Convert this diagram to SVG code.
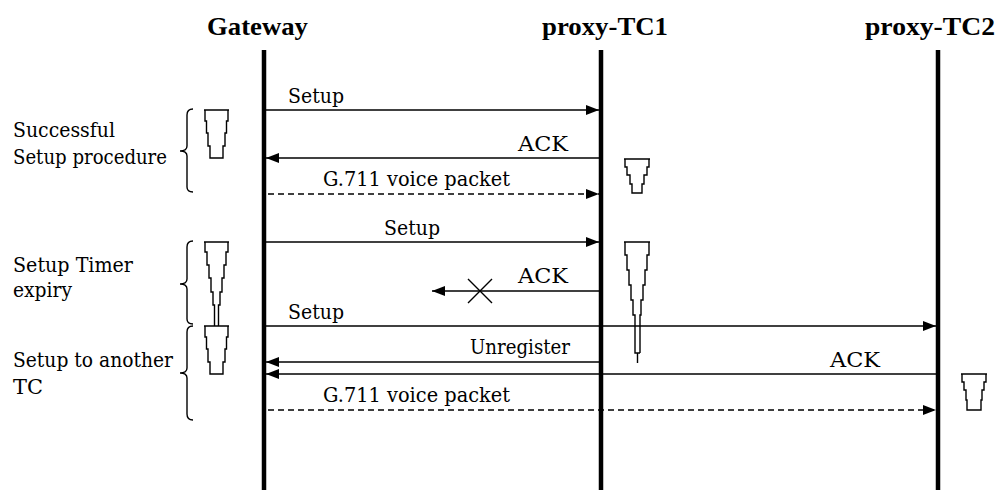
<svg xmlns="http://www.w3.org/2000/svg" width="999" height="490" viewBox="0 0 999 490">
<defs>
<style>
.t{font-family:"DejaVu Serif","Liberation Serif",serif;font-size:21px;fill:#000}
.h{font-family:"Liberation Serif","Times New Roman",serif;font-size:26px;font-weight:bold;fill:#000}
.life{stroke:#000;stroke-width:4.5;fill:none}
.msg{stroke:#000;stroke-width:1.5;fill:none}
.dash{stroke-dasharray:6 4}
.ann{stroke:#000;stroke-width:1.4;fill:none}
</style>
<marker id="ah" markerUnits="userSpaceOnUse" markerWidth="14" markerHeight="11" refX="13" refY="5" orient="auto">
<path d="M0,0 L13,5 L0,10 Z" fill="#000"/>
</marker>
</defs>
<rect width="999" height="490" fill="#fff"/>

<g id="gateway">
<text class="h" x="207" y="35" textLength="101" lengthAdjust="spacingAndGlyphs">Gateway</text>
<line class="life" x1="264" y1="50" x2="264" y2="490"/>
</g>
<g id="proxy-tc1">
<text class="h" x="542" y="35" textLength="126" lengthAdjust="spacingAndGlyphs">proxy-TC1</text>
<line class="life" x1="601" y1="50" x2="601" y2="490"/>
</g>
<g id="proxy-tc2">
<text class="h" x="865" y="35" textLength="130" lengthAdjust="spacingAndGlyphs">proxy-TC2</text>
<line class="life" x1="938" y1="50" x2="938" y2="490"/>
</g>

<g id="connectors">
<line class="msg" x1="266" y1="110" x2="599" y2="110" marker-end="url(#ah)"/>
<text class="t" x="288" y="103" textLength="56" lengthAdjust="spacingAndGlyphs">Setup</text>

<line class="msg" x1="599" y1="158" x2="266" y2="158" marker-end="url(#ah)"/>
<text class="t" x="518" y="151" textLength="50" lengthAdjust="spacingAndGlyphs">ACK</text>

<line class="msg dash" x1="268" y1="194" x2="599" y2="194" marker-end="url(#ah)"/>
<text class="t" x="323" y="186" textLength="187" lengthAdjust="spacingAndGlyphs">G.711 voice packet</text>

<line class="msg" x1="266" y1="242" x2="599" y2="242" marker-end="url(#ah)"/>
<text class="t" x="384" y="235" textLength="56" lengthAdjust="spacingAndGlyphs">Setup</text>

<line class="msg" x1="599" y1="291" x2="432" y2="291" marker-end="url(#ah)"/>
<text class="t" x="518" y="283" textLength="50" lengthAdjust="spacingAndGlyphs">ACK</text>
<path class="ann" d="M468,279 L492,303 M492,279 L468,303"/>

<line class="msg" x1="266" y1="326" x2="936" y2="326" marker-end="url(#ah)"/>
<text class="t" x="288" y="319" textLength="56" lengthAdjust="spacingAndGlyphs">Setup</text>

<line class="msg" x1="599" y1="362" x2="266" y2="362" marker-end="url(#ah)"/>
<text class="t" x="470" y="354" textLength="100" lengthAdjust="spacingAndGlyphs">Unregister</text>

<line class="msg" x1="936" y1="374" x2="266" y2="374" marker-end="url(#ah)"/>
<text class="t" x="830" y="367" textLength="50" lengthAdjust="spacingAndGlyphs">ACK</text>

<line class="msg dash" x1="268" y1="410" x2="936" y2="410" marker-end="url(#ah)"/>
<text class="t" x="323" y="402" textLength="187" lengthAdjust="spacingAndGlyphs">G.711 voice packet</text>
</g>

<g id="annotations">
<text class="t" x="13" y="137" textLength="102" lengthAdjust="spacingAndGlyphs">Successful</text>
<text class="t" x="13" y="164" textLength="154" lengthAdjust="spacingAndGlyphs">Setup procedure</text>
<text class="t" x="13" y="272" textLength="120" lengthAdjust="spacingAndGlyphs">Setup Timer</text>
<text class="t" x="13" y="297" textLength="59" lengthAdjust="spacingAndGlyphs">expiry</text>
<text class="t" x="13" y="367" textLength="160" lengthAdjust="spacingAndGlyphs">Setup to another</text>
<text class="t" x="13" y="394" textLength="30" lengthAdjust="spacingAndGlyphs">TC</text>

<path class="ann" d="M193,109 Q187,109 187,115 L187,146 Q187,151 180,151 Q187,151 187,156 L187,187 Q187,192 193,192"/>
<path class="ann" d="M193,241 Q187,241 187,247 L187,279 Q187,284 180,284 Q187,284 187,289 L187,319 Q187,324 193,324"/>
<path class="ann" d="M193,326 Q187,326 187,332 L187,368 Q187,373 180,373 Q187,373 187,378 L187,414 Q187,420 193,420"/>

<path class="ann" d="M204,110 H229 M228,110 V121 H226.5 V133 H225 V146 H223 V158 H210 V146 H208 V133 H206.5 V121 H205 V110"/>
<path class="ann" d="M204,242 H229 M228,242 V252 H226 V265 H224 V278 H222 V292 H220 V305 H218.5 V326 M205,242 V252 H207 V265 H209 V278 H211 V292 H213 V305 H214.5 V326"/>
<path class="ann" d="M204,326 H229 M228,326 V337 H226.5 V349 H225 V362 H223 V374 H210 V362 H208 V349 H206.5 V337 H205 V326"/>

<path class="ann" d="M624,159 H650 M649,159 V167 H647 V175 H644 V184 H642 V193 H632 V184 H630 V175 H627 V167 H625 V159"/>
<path class="ann" d="M624,242 H650 M649,242 V255 H647 V270 H645 V285 H643 V300 H641 V315 H640 V353 M625,242 V255 H627 V270 H629 V285 H631 V300 H633 V315 H635 V353 H640 M637.5,353 V363"/>
<path class="ann" d="M961,374 H987 M986,374 V382 H984 V390 H982 V400 H981 V410 H967 V400 H966 V390 H964 V382 H962 V374"/>
</g>
</svg>
